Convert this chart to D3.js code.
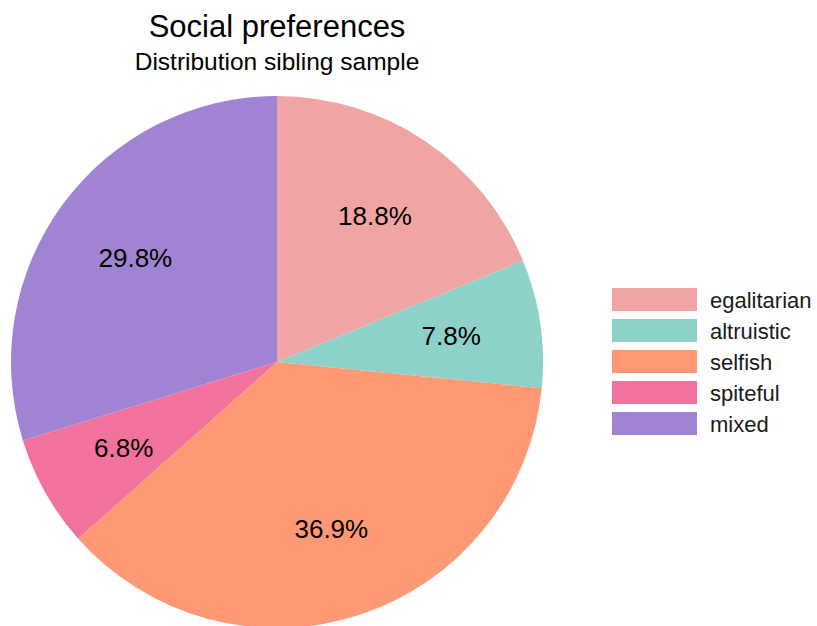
<!DOCTYPE html>
<html><head><meta charset="utf-8">
<script src="https://cdn.jsdelivr.net/npm/d3@7"></script>
<style>body{margin:0;background:#fff}svg{display:block}text{font-family:"Liberation Sans",Arial,sans-serif}</style>
</head><body>
<svg id="c" width="817" height="626"></svg>
<script>
const categories = ["egalitarian","altruistic","selfish","spiteful","mixed"];
const values = [18.8, 7.8, 36.9, 6.8, 29.8];
const colors = ["#F0A5A4","#8ED1C8","#FF9874","#F1729C","#A084D3"];
const labels = ["18.8%","7.8%","36.9%","6.8%","29.8%"];

const svg = d3.select("#c");
const cx = 277, cy = 362, R = 266, LR = 176;
const data = categories.map((c,i)=>({c, v: values[i], col: colors[i], lab: labels[i]}));
const pie = d3.pie().value(d=>d.v).sort(null);
const arc = d3.arc().innerRadius(0).outerRadius(R);
const larc = d3.arc().innerRadius(LR).outerRadius(LR);
const g = svg.append("g").attr("transform", `translate(${cx},${cy})`);
const arcs = pie(data);
g.selectAll("path").data(arcs).join("path").attr("d", arc).attr("fill", d=>d.data.col);
g.selectAll("text").data(arcs).join("text")
  .attr("transform", d=>{const p = larc.centroid(d); return `translate(${p[0]},${p[1]+9})`;})
  .attr("text-anchor","middle")
  .attr("font-size", 26).attr("fill","#000").text(d=>d.data.lab);

svg.append("text").attr("x", cx).attr("y", 37).attr("text-anchor","middle").attr("font-size",31).attr("fill","#000").text("Social preferences");
svg.append("text").attr("x", cx).attr("y", 70).attr("text-anchor","middle").attr("font-size",24.5).attr("fill","#000").text("Distribution sibling sample");

const y = d3.scaleBand().domain(categories).range([288, 288+31*5]).paddingInner(0);
const lg = svg.append("g");
lg.selectAll("rect").data(data).join("rect")
  .attr("x", 612).attr("y", d=>y(d.c)).attr("width", 85).attr("height", 23).attr("fill", d=>d.col);
lg.selectAll("text").data(data).join("text")
  .attr("x", 710).attr("y", d=>y(d.c)+11.5+8).attr("font-size", 22).attr("fill","#1a1a1a").text(d=>d.c);
</script>
</body></html>
